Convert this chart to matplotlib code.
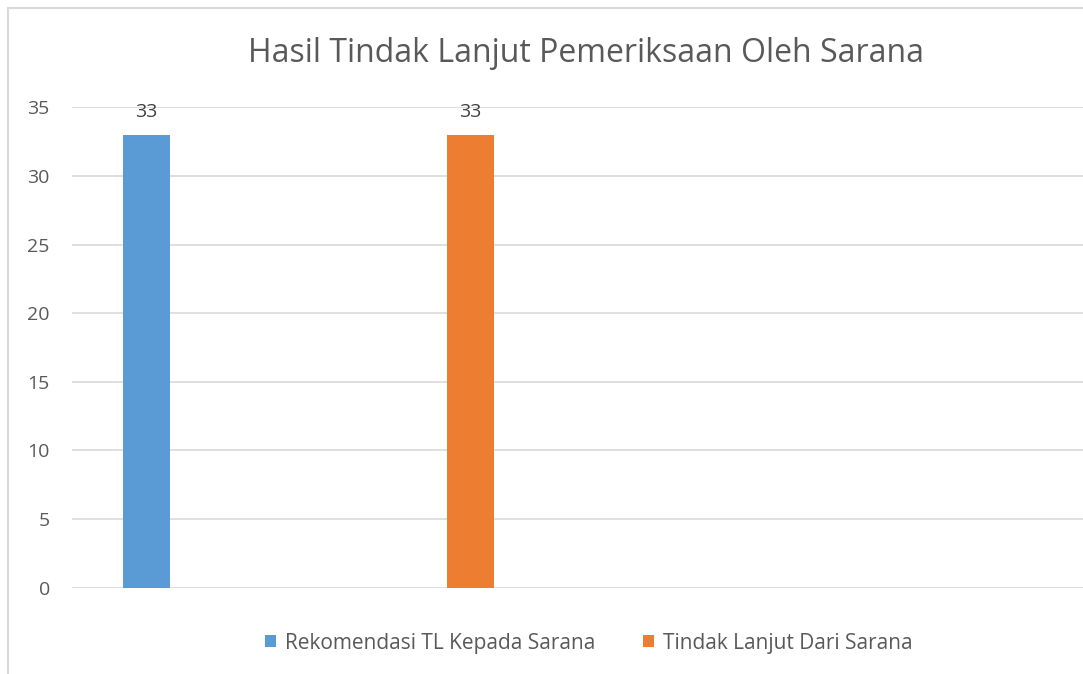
import matplotlib.pyplot as plt
from matplotlib.patches import Rectangle

# data
seri = ['Rekomendasi TL Kepada Sarana', 'Tindak Lanjut Dari Sarana']
nilai = [33, 33]
posisi = [0, 1]
warna = ['#5b9bd5', '#ed7d31']
yticks = [0, 5, 10, 15, 20, 25, 30, 35]

plt.rcParams['font.family'] = ['Open Sans', 'DejaVu Sans']

fig = plt.figure(figsize=(10.83, 6.74), dpi=100)
ax = fig.add_axes([72 / 1083, 1 - 587.7 / 674, 1 - 72 / 1083, 480.4 / 674])

# chart border (cropped at right/bottom)
fig.patches.append(Rectangle((8 / 1083, -0.2), 2, 1.2 - 8 / 674, transform=fig.transFigure,
                             fill=False, edgecolor='#d9d9d9', linewidth=1.5))

bars = []
for x, v, c, s in zip(posisi, nilai, warna, seri):
    b = ax.bar(x, v, width=0.145, color=c, label=s, zorder=3)
    bars.append(b)
    ax.text(x, v + 1.0, str(v), ha='center', va='bottom', fontsize=14, color='#404040')

ax.set_xlim(-0.23, 2.89)
ax.set_ylim(0, 35)
ax.set_yticks(yticks)
ax.set_xticks([])
ax.grid(axis='y', color='#d9d9d9', linewidth=1.2)
for sp in ax.spines.values():
    sp.set_visible(False)
ax.tick_params(axis='y', length=0, pad=16, labelsize=14, labelcolor='#595959')

fig.text(586 / 1083, 1 - 53 / 674, 'Hasil Tindak Lanjut Pemeriksaan Oleh Sarana',
         ha='center', va='center', fontsize=23, color='#595959')

fig.legend(handles=[b[0] for b in bars], labels=seri, loc='center',
           bbox_to_anchor=(589 / 1083, 1 - 643 / 674), ncol=2, frameon=False,
           fontsize=15, labelcolor='#595959', handlelength=0.5, handleheight=0.5,
           handletextpad=0.45, columnspacing=2.3)

fig.savefig('out.png', dpi=100)
